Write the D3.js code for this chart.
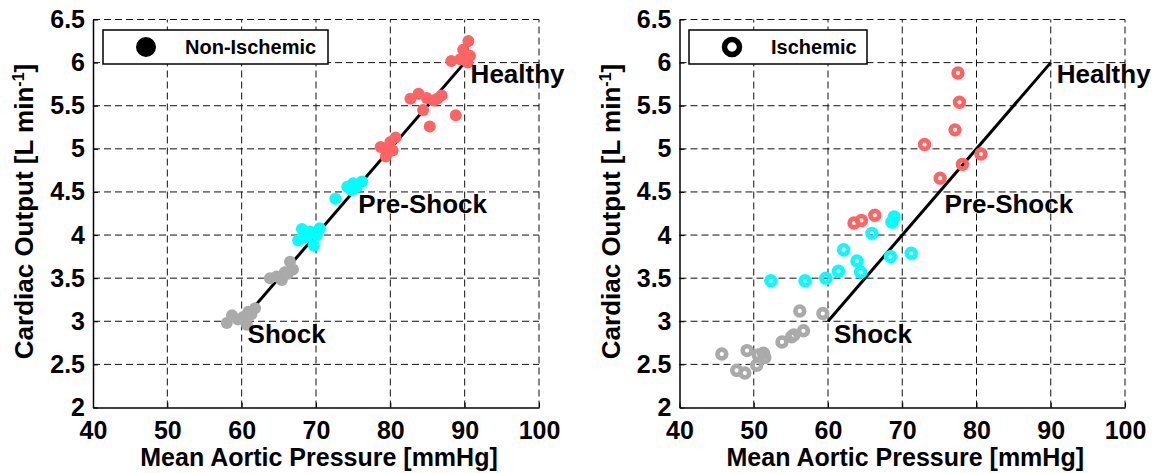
<!DOCTYPE html>
<html><head><meta charset="utf-8">
<script src="https://cdn.jsdelivr.net/npm/d3@7"></script>
<style>
html,body{margin:0;padding:0;background:#fff;}
text{font-family:"Liberation Sans",Arial,sans-serif;font-weight:bold;fill:#000;}
</style></head>
<body>
<svg id="chart" width="1157" height="473"></svg>
<script>
// ---------- data ----------
const xTicks = [40, 50, 60, 70, 80, 90, 100];
const yTicks = [2, 2.5, 3, 3.5, 4, 4.5, 5, 5.5, 6, 6.5];
const xLabel = "Mean Aortic Pressure [mmHg]";
const stageLabels = ["Healthy", "Pre-Shock", "Shock"];
const stageLabelX = [90.8, 75.7, 60.8];
const stageLabelY = [5.87, 4.36, 2.86];
const trendX = [60, 90];
const trendY = [3, 6];

const nonIschRedX  = [90.5, 89.8, 88.2, 89.4, 90.2, 90.4, 90.7, 82.7, 83.8, 84.4, 84.9, 85.8, 86.3, 86.9, 85.3, 88.8, 78.7, 79.4, 80.0, 80.7, 80.3, 79.6];
const nonIschRedY  = [6.25, 6.15, 6.02, 6.04, 6.05, 6.00, 6.08, 5.58, 5.64, 5.45, 5.59, 5.56, 5.58, 5.62, 5.26, 5.39, 5.02, 4.91, 5.08, 5.13, 4.98, 5.00];
const nonIschCyanX = [72.6, 74.2, 74.8, 75.5, 76.2, 75.0, 68.1, 67.6, 68.8, 69.2, 69.7, 70.5, 70.1, 69.0, 68.3];
const nonIschCyanY = [4.42, 4.56, 4.52, 4.56, 4.62, 4.60, 4.07, 3.94, 3.98, 4.04, 3.88, 4.08, 4.00, 4.00, 3.97];
const nonIschGrayX = [66.5, 66.9, 65.8, 64.7, 63.8, 65.4, 66.2, 58.0, 58.7, 60.2, 60.9, 61.8, 60.7, 59.5, 61.3];
const nonIschGrayY = [3.69, 3.60, 3.57, 3.52, 3.50, 3.48, 3.55, 2.98, 3.07, 3.05, 3.11, 3.15, 2.96, 3.02, 3.08];

const ischRedX  = [77.5, 77.7, 77.1, 73.0, 80.6, 78.1, 75.1, 63.5, 64.5, 66.3];
const ischRedY  = [5.88, 5.54, 5.22, 5.05, 4.94, 4.82, 4.66, 4.14, 4.17, 4.23];
const ischCyanX = [68.9, 68.6, 65.9, 62.1, 63.9, 64.4, 61.4, 59.7, 56.9, 52.3, 68.4, 71.2];
const ischCyanY = [4.21, 4.15, 4.02, 3.83, 3.70, 3.57, 3.58, 3.50, 3.47, 3.47, 3.75, 3.79];
const ischGrayX = [56.2, 59.3, 56.7, 55.4, 55.1, 53.8, 45.7, 49.1, 50.6, 51.3, 51.5, 50.4, 47.7, 48.8];
const ischGrayY = [3.12, 3.09, 2.89, 2.84, 2.82, 2.76, 2.62, 2.66, 2.61, 2.63, 2.58, 2.49, 2.43, 2.40];

const colRed = "#ff6464", colCyan = "#00ffff", colGray = "#aaaaaa";

const zip = (xs, ys) => xs.map((x, i) => [x, ys[i]]);

const panels = [
  { x0: 93, x1: 539, legend: "Non-Ischemic", filled: true,
    legBox: [103, 30, 225, 34],
    series: [[nonIschGrayX, nonIschGrayY, colGray], [nonIschCyanX, nonIschCyanY, colCyan], [nonIschRedX, nonIschRedY, colRed]] },
  { x0: 679.5, x1: 1125, legend: "Ischemic", filled: false,
    legBox: [689, 30, 178, 34],
    series: [[ischGrayX, ischGrayY, colGray], [ischCyanX, ischCyanY, colCyan], [ischRedX, ischRedY, colRed]] }
];

const svg = d3.select("#chart");
const yTop = 19.5, yBot = 407.5;

panels.forEach(p => {
  const x = d3.scaleLinear().domain([40, 100]).range([p.x0, p.x1]);
  const y = d3.scaleLinear().domain([2, 6.5]).range([yBot, yTop]);
  const g = svg.append("g");

  // grid
  g.selectAll(".gx").data(xTicks.slice(1)).enter().append("line")
    .attr("x1", d => x(d)).attr("x2", d => x(d)).attr("y1", yBot).attr("y2", yTop)
    .attr("stroke", "#111").attr("stroke-width", 1).attr("stroke-dasharray", "7,4");
  g.selectAll(".gy").data(yTicks.slice(1)).enter().append("line")
    .attr("x1", p.x0).attr("x2", p.x1).attr("y1", d => y(d)).attr("y2", d => y(d))
    .attr("stroke", "#111").attr("stroke-width", 1).attr("stroke-dasharray", "7,4");

  // axes
  const xa = g.append("g").attr("transform", `translate(0,${yBot})`)
    .call(d3.axisBottom(x).tickValues(xTicks).tickSizeInner(-5).tickSizeOuter(0).tickPadding(14));
  const ya = g.append("g").attr("transform", `translate(${p.x0},0)`)
    .call(d3.axisLeft(y).tickValues(yTicks).tickFormat(d3.format("")).tickSizeInner(-5).tickSizeOuter(0).tickPadding(8));
  [xa, ya].forEach(a => {
    a.select(".domain").attr("stroke", "#000").attr("stroke-width", 1.5);
    a.selectAll(".tick line").attr("stroke", "#000").attr("stroke-width", 1);
    a.selectAll("text").style("font-size", "25px").style("font-family", '"Liberation Sans",Arial,sans-serif').style("font-weight", "bold").attr("fill", "#000");
  });
  xa.selectAll("text").attr("dy", "0.71em");

  // trend line
  g.append("path").datum(zip(trendX, trendY))
    .attr("d", d3.line().x(d => x(d[0])).y(d => y(d[1])))
    .attr("stroke", "#000").attr("stroke-width", 3).attr("fill", "none");

  // points
  p.series.forEach(([xs, ys, c]) => {
    const sel = g.selectAll(null).data(zip(xs, ys)).enter().append("circle")
      .attr("cx", d => x(d[0])).attr("cy", d => y(d[1]));
    if (p.filled) sel.attr("r", 6).attr("fill", c);
    else sel.attr("r", 4.4).attr("fill", "none").attr("stroke", c).attr("stroke-width", 4.6);
  });

  // stage labels
  stageLabels.forEach((t, i) => {
    g.append("text").attr("x", x(stageLabelX[i])).attr("y", y(stageLabelY[i])).attr("dy", "0.36em")
      .style("font-size", "26px").text(t);
  });

  // axis labels
  g.append("text").attr("x", (p.x0 + p.x1) / 2 + 3).attr("y", 466).attr("text-anchor", "middle")
    .style("font-size", "25px").text(xLabel);
  const yl = g.append("text").attr("transform", `translate(${p.x0 - 60},${(yTop + yBot) / 2 - 2}) rotate(-90)`)
    .attr("text-anchor", "middle").style("font-size", "26px");
  yl.append("tspan").text("Cardiac Output [L min");
  yl.append("tspan").attr("dy", "-9").style("font-size", "16px").text("-1");
  yl.append("tspan").attr("dy", "9").text("]");

  // legend
  const [lx, ly, lw, lh] = p.legBox;
  g.append("rect").attr("x", lx).attr("y", ly).attr("width", lw).attr("height", lh)
    .attr("fill", "#fff").attr("stroke", "#000").attr("stroke-width", 1.5);
  if (p.filled) g.append("circle").attr("cx", lx + 43).attr("cy", ly + lh / 2).attr("r", 10).attr("fill", "#000");
  else g.append("circle").attr("cx", lx + 43).attr("cy", ly + lh / 2).attr("r", 7.5).attr("fill", "none").attr("stroke", "#000").attr("stroke-width", 5.5);
  g.append("text").attr("x", lx + 82).attr("y", ly + lh / 2).attr("dy", "0.36em")
    .style("font-size", "20px").text(p.legend);
});
</script>
</body></html>
